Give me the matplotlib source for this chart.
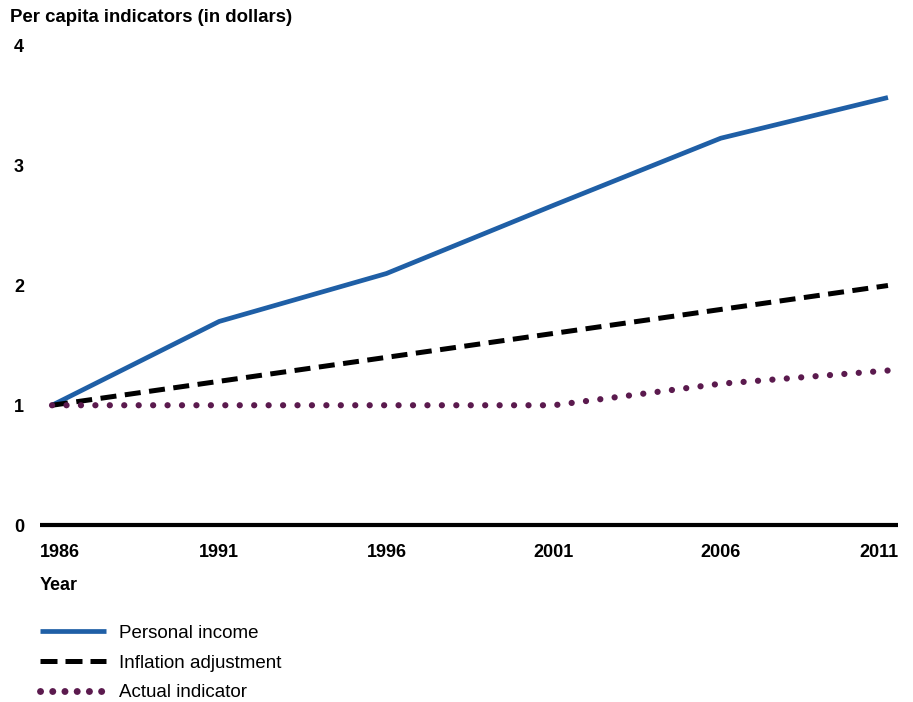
import matplotlib
matplotlib.use("Agg")
from matplotlib import pyplot as plt
from matplotlib import transforms as mtransforms

plt.rcParams['font.family'] = ['Liberation Sans', 'DejaVu Sans']

years = [1986, 1991, 1996, 2001, 2006, 2011]
personal_income = [1.0, 1.7, 2.1, 2.67, 3.23, 3.57]
inflation_adj = [1.0, 1.2, 1.4, 1.6, 1.8, 2.0]
actual_indicator = [1.0, 1.0, 1.0, 1.0, 1.18, 1.29]
y_ticks = [0, 1, 2, 3, 4]

W, H = 913, 702
fig = plt.figure(figsize=(W / 100, H / 100), dpi=100)
# axes box in pixels: left 40, right 898, top 46, bottom 525
ax = fig.add_axes([40 / W, 1 - 525 / H, (898 - 40) / W, (525 - 46) / H])

ax.plot(years, personal_income, color='#1f5fa6', lw=3.4, solid_capstyle='butt',
        label='Personal income')
ax.plot(years, inflation_adj, color='black', lw=3.6, linestyle=(0, (3.2, 1.7)),
        dash_capstyle='butt', label='Inflation adjustment')
ax.plot(years, actual_indicator, color='#5b1a4e', lw=4.5, linestyle=(0, (0.01, 2.3)),
        dash_capstyle='round', label='Actual indicator')

ax.set_xlim(1985.64, 2011.3)
ax.set_ylim(0, 4)
ax.set_xticks(years)
ax.set_yticks(y_ticks)
ax.set_yticklabels([str(v) for v in y_ticks])

for side in ['top', 'right', 'left']:
    ax.spines[side].set_visible(False)
ax.spines['bottom'].set_linewidth(3)
ax.spines['bottom'].set_capstyle('butt')

ax.tick_params(axis='both', length=0, labelsize=13)
ax.tick_params(axis='y', pad=11.5)
ax.tick_params(axis='x', pad=14)
for lbl in ax.get_xticklabels() + ax.get_yticklabels():
    lbl.set_fontweight('bold')

# nudge first and last year labels inward like the original
xl = ax.get_xticklabels()
xl[0].set_transform(xl[0].get_transform() + mtransforms.ScaledTranslation(8 / 100, 0, fig.dpi_scale_trans))
xl[-1].set_transform(xl[-1].get_transform() + mtransforms.ScaledTranslation(-9 / 100, 0, fig.dpi_scale_trans))

fig.text(10 / W, 1 - 17 / H, 'Per capita indicators (in dollars)', fontsize=13.4,
         fontweight='bold', va='center', ha='left')
fig.text(40 / W, 1 - 586 / H, 'Year', fontsize=13, fontweight='bold',
         va='center', ha='left')

leg = fig.legend(loc='upper left', bbox_to_anchor=(32 / W, 1 - 617 / H), frameon=False,
                 fontsize=13.5, handlelength=3.55, handletextpad=0.7, labelspacing=0.68,
                 borderaxespad=0)
# legend samples: three long dashes, six fat dots
leg.get_lines()[1].set_linestyle((0, (3.4, 1.6)))
leg.get_lines()[2].set_linewidth(5)
leg.get_lines()[2].set_linestyle((0, (0.01, 1.75)))

fig.savefig('out.png', dpi=100)
